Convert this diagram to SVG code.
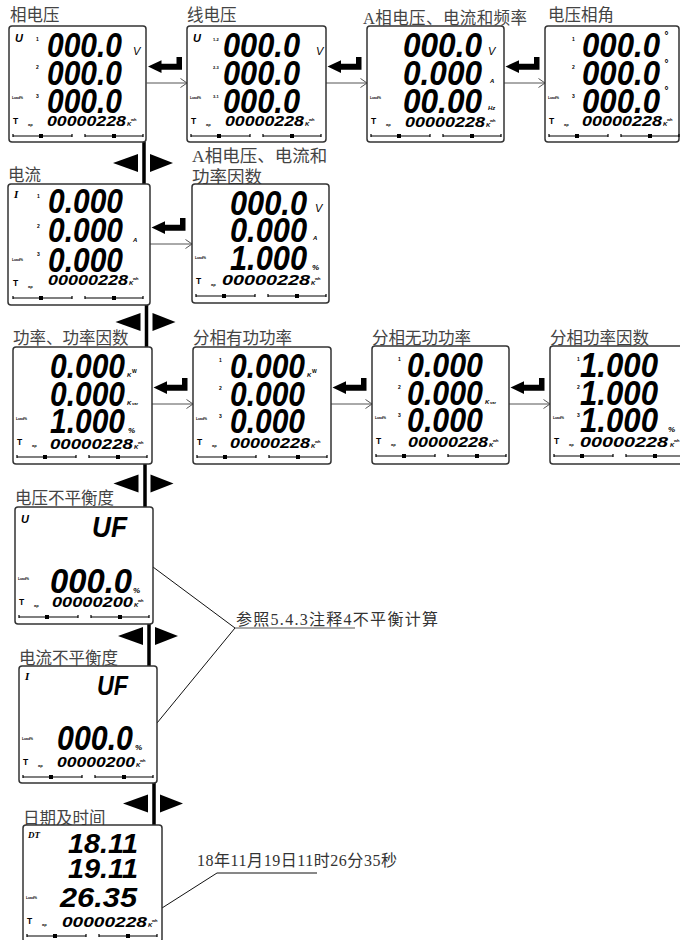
<svg xmlns="http://www.w3.org/2000/svg" xmlns:xlink="http://www.w3.org/1999/xlink" width="680" height="940" viewBox="0 0 680 940">
<style>
.frame{fill:#fff;stroke:#333;stroke-width:1.5}
.lbl{font-family:"Liberation Serif","Noto Sans CJK SC",serif;font-size:16.5px;fill:#444}
.note{font-family:"Liberation Serif","Noto Sans CJK SC",serif;font-size:16px;fill:#333}
.seg{font-family:"Liberation Sans",Arial,sans-serif;font-weight:700;font-style:italic;font-size:30px;fill:#000}
.sm{font-family:"Liberation Sans",Arial,sans-serif;font-weight:700;font-style:italic;font-size:15px;fill:#000}
.tn{font-family:"Liberation Sans",Arial,sans-serif;font-weight:700;font-size:5px;fill:#000}
.t4{font-family:"Liberation Sans",Arial,sans-serif;font-weight:700;font-size:4px;fill:#000}
.k{font-family:"Liberation Sans",Arial,sans-serif;font-weight:700;font-style:italic;font-size:6px;fill:#000}
.pc{font-family:"Liberation Sans",Arial,sans-serif;font-weight:700;font-style:italic;font-size:8px;fill:#000}
.v{font-family:"Liberation Sans",Arial,sans-serif;font-style:italic;font-size:11px;fill:#000}
.ind{font-family:"Liberation Sans",Arial,sans-serif;font-weight:700;font-style:italic;font-size:11px;fill:#000}
.indI{font-family:"Liberation Serif",serif;font-weight:700;font-style:italic;font-size:11px;fill:#000}
.thin{stroke:#555;stroke-width:1;fill:none}
.lead{stroke:#111;stroke-width:1;fill:none}
.vbar{stroke:#000;stroke-width:3.5}
</style>
<defs>
<marker id="chev" markerUnits="userSpaceOnUse" markerWidth="10" markerHeight="12" refX="8" refY="6" orient="auto"><path d="M1.5,1.5 L8,6 L1.5,10.5" fill="none" stroke="#555" stroke-width="1"/></marker>
<path id="enter" d="M0,0 L13.5,-6.3 L13.5,-2.7 L28.5,-2.7 L28.5,-9.5 L34,-9.5 L34,3.3 L13.5,3.3 L13.5,6.5 Z" fill="#000"/>
<g id="lr" fill="#000"><polygon points="-31,0 -6,-9 -6,9"/><polygon points="6,-9 29,0 6,9"/></g>
<g id="foot">
<text class="t4" x="3" y="73" textLength="11" lengthAdjust="spacingAndGlyphs">Load%</text>
<text class="tn" x="4" y="98" style="font-size:8.5px">T</text>
<text class="t4" x="19" y="100">ap</text>
<path d="M4,110 H63 M76,110 H134 M4,108 V111 M63,108 V111 M76,108 V111 M134,108 V111" stroke="#000" stroke-width="1.2" fill="none"/>
<rect x="30" y="108" width="4" height="4" fill="#000"/>
<rect x="103" y="108" width="4" height="4" fill="#000"/>
</g>
</defs>

<g id="connectors">
<path class="thin" marker-end="url(#chev)" d="M146.5,83 H187"/>
<path class="thin" marker-end="url(#chev)" d="M326,83 H367"/>
<path class="thin" marker-end="url(#chev)" d="M504,83 H545"/>
<path class="thin" marker-end="url(#chev)" d="M150,244 H192"/>
<path class="thin" marker-end="url(#chev)" d="M152,404 H193"/>
<path class="thin" marker-end="url(#chev)" d="M331,404 H372"/>
<path class="thin" marker-end="url(#chev)" d="M509,404 H550"/>
<use href="#enter" xlink:href="#enter" transform="translate(148,66.5)"/>
<use href="#enter" xlink:href="#enter" transform="translate(327.5,66.5)"/>
<use href="#enter" xlink:href="#enter" transform="translate(505.5,66.5)"/>
<use href="#enter" xlink:href="#enter" transform="translate(151.5,227.5)"/>
<use href="#enter" xlink:href="#enter" transform="translate(153.5,387.5)"/>
<use href="#enter" xlink:href="#enter" transform="translate(332.5,387.5)"/>
<use href="#enter" xlink:href="#enter" transform="translate(510.5,387.5)"/>
<path class="vbar" d="M144,142 V184 M146.5,305 V347 M145,464 V507 M149,624 V666 M154,783 V825"/>
<use href="#lr" xlink:href="#lr" transform="translate(144,163)"/>
<use href="#lr" xlink:href="#lr" transform="translate(146.5,322)"/>
<use href="#lr" xlink:href="#lr" transform="translate(144.5,483.5)"/>
<use href="#lr" xlink:href="#lr" transform="translate(149,636)"/>
<use href="#lr" xlink:href="#lr" transform="translate(154,803.5)"/>
<path class="lead" d="M153,567 L235,628 L157,723"/>
<path class="thin" d="M235,628 H355"/>
<path class="lead" d="M162,908 L217,873 H317"/>
</g>

<text class="note" x="236" y="625" textLength="202">参照5.4.3注释4不平衡计算</text>
<text class="note" x="197" y="866" textLength="200">18年11月19日11时26分35秒</text>

<g id="n-phase-voltage">
<text class="lbl" x="10" y="20.5">相电压</text>
<g transform="translate(9,26)">
<rect class="frame" x="0" y="0" width="137" height="116" rx="3"/>
<text class="ind" x="6" y="16">U</text>
<text class="tn" x="27" y="15">1</text><text class="tn" x="27" y="43">2</text><text class="tn" x="27" y="72">3</text>
<text class="seg" transform="translate(38,31) scale(1,1.17)" textLength="75" lengthAdjust="spacingAndGlyphs">000.0</text>
<text class="seg" transform="translate(38,59) scale(1,1.17)" textLength="75" lengthAdjust="spacingAndGlyphs">000.0</text>
<text class="seg" transform="translate(38,87) scale(1,1.17)" textLength="75" lengthAdjust="spacingAndGlyphs">000.0</text>
<text class="v" x="124" y="29">V</text>
<text class="sm" x="38" y="100" textLength="79" lengthAdjust="spacingAndGlyphs">00000228</text>
<text class="k" x="118" y="100">K</text><text class="t4" x="122" y="95">wh</text>
<use href="#foot" xlink:href="#foot"/>
</g>
</g>

<g id="n-line-voltage">
<text class="lbl" x="187" y="20.5">线电压</text>
<g transform="translate(187,26)">
<rect class="frame" x="0" y="0" width="139" height="116" rx="3"/>
<text class="ind" x="6" y="16">U</text>
<text class="t4" x="26" y="15">1-2</text><text class="t4" x="26" y="43">2-3</text><text class="t4" x="26" y="72">3-1</text>
<text class="seg" transform="translate(36,31) scale(1,1.17)" textLength="77" lengthAdjust="spacingAndGlyphs">000.0</text>
<text class="seg" transform="translate(36,59) scale(1,1.17)" textLength="77" lengthAdjust="spacingAndGlyphs">000.0</text>
<text class="seg" transform="translate(36,87) scale(1,1.17)" textLength="77" lengthAdjust="spacingAndGlyphs">000.0</text>
<text class="v" x="129" y="29">V</text>
<text class="sm" x="38" y="100" textLength="79" lengthAdjust="spacingAndGlyphs">00000228</text>
<text class="k" x="118" y="100">K</text><text class="t4" x="122" y="95">wh</text>
<use href="#foot" xlink:href="#foot"/>
</g>
</g>

<g id="n-a-v-i-f">
<text class="lbl" x="363" y="23.5" textLength="164">A相电压、电流和频率</text>
<g transform="translate(367,26)">
<rect class="frame" x="0" y="0" width="137" height="116" rx="3"/>
<text class="seg" transform="translate(36,31) scale(1,1.17)" textLength="79" lengthAdjust="spacingAndGlyphs">000.0</text>
<text class="seg" transform="translate(36,59) scale(1,1.17)" textLength="79" lengthAdjust="spacingAndGlyphs">0.000</text>
<text class="seg" transform="translate(36,87) scale(1,1.17)" textLength="79" lengthAdjust="spacingAndGlyphs">00.00</text>
<text class="v" x="121" y="29">V</text>
<text class="k" x="123" y="57">A</text>
<text class="k" x="121" y="84">Hz</text>
<text class="sm" x="38" y="101" textLength="80" lengthAdjust="spacingAndGlyphs">00000228</text>
<text class="k" x="119" y="101">K</text><text class="t4" x="123" y="96">wh</text>
<use href="#foot" xlink:href="#foot"/>
</g>
</g>

<g id="n-voltage-angle">
<text class="lbl" x="548" y="20.5">电压相角</text>
<g transform="translate(545,26)">
<rect class="frame" x="0" y="0" width="134" height="116" rx="3"/>
<text class="tn" x="27" y="15">1</text><text class="tn" x="27" y="43">2</text><text class="tn" x="27" y="72">3</text>
<text class="seg" transform="translate(37,31) scale(1,1.17)" textLength="78" lengthAdjust="spacingAndGlyphs">000.0</text>
<text class="seg" transform="translate(37,59) scale(1,1.17)" textLength="78" lengthAdjust="spacingAndGlyphs">000.0</text>
<text class="seg" transform="translate(37,87) scale(1,1.17)" textLength="78" lengthAdjust="spacingAndGlyphs">000.0</text>
<text class="pc" x="119" y="13" style="font-size:10px">°</text>
<text class="pc" x="119" y="41" style="font-size:10px">°</text>
<text class="pc" x="119" y="68" style="font-size:10px">°</text>
<text class="sm" x="37" y="100" textLength="80" lengthAdjust="spacingAndGlyphs">00000228</text>
<text class="k" x="118" y="100">K</text><text class="t4" x="122" y="95">wh</text>
<use href="#foot" xlink:href="#foot"/>
</g>
</g>

<g id="n-current">
<text class="lbl" x="8" y="181">电流</text>
<g transform="translate(8,184)">
<rect class="frame" x="0" y="0" width="142" height="121" rx="3"/>
<text class="indI" x="6" y="14">I</text>
<text class="tn" x="29" y="14">1</text><text class="tn" x="29" y="44">2</text><text class="tn" x="29" y="72">3</text>
<text class="seg" transform="translate(40,29) scale(1,1.17)" textLength="75" lengthAdjust="spacingAndGlyphs">0.000</text>
<text class="seg" transform="translate(40,58) scale(1,1.17)" textLength="75" lengthAdjust="spacingAndGlyphs">0.000</text>
<text class="seg" transform="translate(40,88) scale(1,1.17)" textLength="75" lengthAdjust="spacingAndGlyphs">0.000</text>
<text class="k" x="125" y="58">A</text>
<text class="sm" x="40" y="101" textLength="80" lengthAdjust="spacingAndGlyphs">00000228</text>
<text class="k" x="121" y="101">K</text><text class="t4" x="125" y="96">wh</text>
<use href="#foot" xlink:href="#foot" transform="translate(1,4)"/>
</g>
</g>

<g id="n-a-v-i-pf">
<text class="lbl" x="192" y="162" style="font-size:17.5px">A相电压、电流和</text>
<text class="lbl" x="192" y="183" style="font-size:17.5px">功率因数</text>
<g transform="translate(192,184)">
<rect class="frame" x="0" y="0" width="137" height="119" rx="3"/>
<text class="seg" transform="translate(38,31) scale(1,1.17)" textLength="77" lengthAdjust="spacingAndGlyphs">000.0</text>
<text class="seg" transform="translate(38,58) scale(1,1.17)" textLength="77" lengthAdjust="spacingAndGlyphs">0.000</text>
<text class="seg" transform="translate(38,86) scale(1,1.17)" textLength="77" lengthAdjust="spacingAndGlyphs">1.000</text>
<text class="v" x="123" y="28">V</text>
<text class="k" x="121" y="56">A</text>
<text class="pc" x="120" y="86">%</text>
<text class="sm" x="30" y="101" textLength="88" lengthAdjust="spacingAndGlyphs">00000228</text>
<text class="k" x="119" y="101">K</text><text class="t4" x="123" y="96">wh</text>
<use href="#foot" xlink:href="#foot" transform="translate(0,2)"/>
</g>
</g>

<g id="n-power-pf">
<text class="lbl" x="13" y="344">功率、功率因数</text>
<g transform="translate(13,347)">
<rect class="frame" x="0" y="0" width="139" height="117" rx="3"/>
<text class="seg" transform="translate(37,31) scale(1,1.17)" textLength="75" lengthAdjust="spacingAndGlyphs">0.000</text>
<text class="seg" transform="translate(37,59) scale(1,1.17)" textLength="75" lengthAdjust="spacingAndGlyphs">0.000</text>
<text class="seg" transform="translate(37,86) scale(1,1.17)" textLength="75" lengthAdjust="spacingAndGlyphs">1.000</text>
<text class="k" x="114" y="30">K</text><text class="t4" x="119" y="26" style="font-size:5px">W</text>
<text class="k" x="114" y="58">K</text><text class="t4" x="119" y="58">var</text>
<text class="pc" x="115" y="86">%</text>
<text class="sm" x="37" y="102" textLength="83" lengthAdjust="spacingAndGlyphs">00000228</text>
<text class="k" x="121" y="102">K</text><text class="t4" x="125" y="97">wh</text>
<use href="#foot" xlink:href="#foot"/>
</g>
</g>

<g id="n-phase-active">
<text class="lbl" x="193" y="344">分相有功功率</text>
<g transform="translate(193,347)">
<rect class="frame" x="0" y="0" width="138" height="117" rx="3"/>
<text class="tn" x="26" y="15">1</text><text class="tn" x="26" y="43">2</text><text class="tn" x="26" y="71">3</text>
<text class="seg" transform="translate(37,31) scale(1,1.17)" textLength="75" lengthAdjust="spacingAndGlyphs">0.000</text>
<text class="seg" transform="translate(37,59) scale(1,1.17)" textLength="75" lengthAdjust="spacingAndGlyphs">0.000</text>
<text class="seg" transform="translate(37,86) scale(1,1.17)" textLength="75" lengthAdjust="spacingAndGlyphs">0.000</text>
<text class="k" x="114" y="30">K</text><text class="t4" x="119" y="26" style="font-size:5px">W</text>
<text class="sm" x="37" y="101" textLength="80" lengthAdjust="spacingAndGlyphs">00000228</text>
<text class="k" x="118" y="101">K</text><text class="t4" x="122" y="96">wh</text>
<use href="#foot" xlink:href="#foot"/>
</g>
</g>

<g id="n-phase-reactive">
<text class="lbl" x="372" y="344">分相无功功率</text>
<g transform="translate(372,346)">
<rect class="frame" x="0" y="0" width="137" height="118" rx="3"/>
<text class="tn" x="26" y="15">1</text><text class="tn" x="26" y="43">2</text><text class="tn" x="26" y="71">3</text>
<text class="seg" transform="translate(35,31) scale(1,1.17)" textLength="76" lengthAdjust="spacingAndGlyphs">0.000</text>
<text class="seg" transform="translate(35,59) scale(1,1.17)" textLength="76" lengthAdjust="spacingAndGlyphs">0.000</text>
<text class="seg" transform="translate(35,86) scale(1,1.17)" textLength="76" lengthAdjust="spacingAndGlyphs">0.000</text>
<text class="k" x="113" y="58">K</text><text class="t4" x="118" y="58">var</text>
<text class="sm" x="36" y="101" textLength="80" lengthAdjust="spacingAndGlyphs">00000228</text>
<text class="k" x="117" y="101">K</text><text class="t4" x="121" y="96">wh</text>
<use href="#foot" xlink:href="#foot"/>
</g>
</g>

<g id="n-phase-pf">
<text class="lbl" x="550" y="344">分相功率因数</text>
<g transform="translate(550,346)">
<rect class="frame" x="0" y="0" width="137" height="118" rx="3"/>
<text class="tn" x="27" y="15">1</text><text class="tn" x="27" y="43">2</text><text class="tn" x="27" y="71">3</text>
<text class="seg" transform="translate(30,31) scale(1,1.17)" textLength="78" lengthAdjust="spacingAndGlyphs">1.000</text>
<text class="seg" transform="translate(30,59) scale(1,1.17)" textLength="78" lengthAdjust="spacingAndGlyphs">1.000</text>
<text class="seg" transform="translate(30,86) scale(1,1.17)" textLength="78" lengthAdjust="spacingAndGlyphs">1.000</text>
<text class="pc" x="118" y="86">%</text>
<text class="sm" x="30" y="101" textLength="88" lengthAdjust="spacingAndGlyphs">00000228</text>
<text class="k" x="120" y="101">K</text><text class="t4" x="124" y="96">wh</text>
<use href="#foot" xlink:href="#foot"/>
</g>
</g>

<g id="n-voltage-unbalance">
<text class="lbl" x="15" y="504">电压不平衡度</text>
<g transform="translate(15,507)">
<rect class="frame" x="0" y="0" width="138" height="117" rx="3"/>
<text class="ind" x="6" y="16">U</text>
<text class="seg" transform="translate(77,30) scale(1,1.17)" style="font-size:26px" textLength="35" lengthAdjust="spacingAndGlyphs">UF</text>
<text class="seg" transform="translate(35,86) scale(1,1.17)" textLength="82" lengthAdjust="spacingAndGlyphs">000.0</text>
<text class="pc" x="118" y="86">%</text>
<text class="sm" x="37" y="100" textLength="81" lengthAdjust="spacingAndGlyphs">00000200</text>
<text class="k" x="119" y="100">K</text><text class="t4" x="123" y="95">wh</text>
<use href="#foot" xlink:href="#foot"/>
</g>
</g>

<g id="n-current-unbalance">
<text class="lbl" x="19" y="664">电流不平衡度</text>
<g transform="translate(19,666)">
<rect class="frame" x="0" y="0" width="138" height="117" rx="3"/>
<text class="indI" x="6" y="14">I</text>
<text class="seg" transform="translate(78,29) scale(1,1.17)" style="font-size:23px" textLength="31" lengthAdjust="spacingAndGlyphs">UF</text>
<text class="seg" transform="translate(38,84) scale(1,1.17)" textLength="76" lengthAdjust="spacingAndGlyphs">000.0</text>
<text class="pc" x="116" y="84">%</text>
<text class="sm" x="38" y="101" textLength="78" lengthAdjust="spacingAndGlyphs">00000200</text>
<text class="k" x="117" y="101">K</text><text class="t4" x="121" y="96">wh</text>
<use href="#foot" xlink:href="#foot" transform="translate(0,1)"/>
</g>
</g>

<g id="n-date-time">
<text class="lbl" x="23" y="824">日期及时间</text>
<g transform="translate(23,825)">
<rect class="frame" x="0" y="0" width="139" height="117" rx="3"/>
<text class="indI" x="5" y="13" style="font-size:9px">DT</text>
<text class="seg" x="45" y="28" style="font-size:28px" textLength="70" lengthAdjust="spacingAndGlyphs">18.11</text>
<text class="seg" x="45" y="53" style="font-size:28px" textLength="70" lengthAdjust="spacingAndGlyphs">19.11</text>
<text class="seg" x="37" y="82" style="font-size:28px" textLength="77" lengthAdjust="spacingAndGlyphs">26.35</text>
<text class="sm" x="39" y="102" textLength="85" lengthAdjust="spacingAndGlyphs">00000228</text>
<text class="k" x="125" y="102">K</text><text class="t4" x="129" y="97">wh</text>
<use href="#foot" xlink:href="#foot" transform="translate(0,1)"/>
</g>
</g>
</svg>
